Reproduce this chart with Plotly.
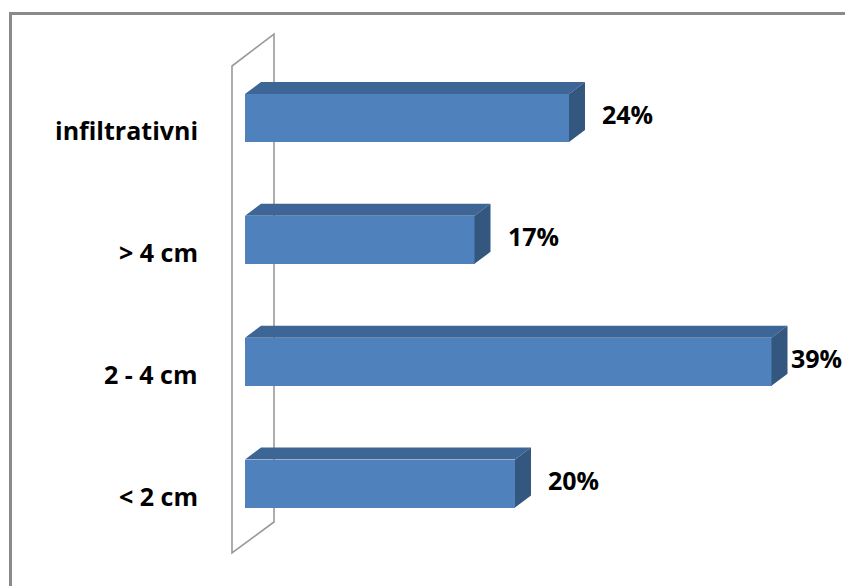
import plotly.graph_objects as go

# ---- data ----
categories = ["< 2 cm", "2 - 4 cm", "> 4 cm", "infiltrativni"]
values = [20, 39, 17, 24]
value_labels = ["20%", "39%", "17%", "24%"]

# ---- geometry / style ----
W, H = 845, 586
X0_PX = 245.0          # pixel of value 0
PX_PER_UNIT_X = 13.5   # pixels per percent
PX_PER_CAT = 121.83    # pixels between categories
Y0_PX = 483.5          # pixel of first category centre
BAR_PX = 48.0
DEPTH_DX, DEPTH_DY = 16.0, 12.0
LABEL_GAP = 31
LABEL_W = 56

x_range = [-X0_PX / PX_PER_UNIT_X, (W - X0_PX) / PX_PER_UNIT_X]
y_min = -(H - Y0_PX) / PX_PER_CAT
y_max = Y0_PX / PX_PER_CAT
bar_w = BAR_PX / PX_PER_CAT
dx = DEPTH_DX / PX_PER_UNIT_X
dy = DEPTH_DY / PX_PER_CAT

FRONT = "#4F81BD"
TOP = "#3D6595"
SIDE = "#33577F"
FONT = "Open Sans"

ypos = list(range(len(categories)))

fig = go.Figure()

# front faces
fig.add_trace(go.Bar(
    x=values, y=ypos, orientation="h", base=0, width=bar_w,
    marker=dict(color=FRONT, line=dict(width=0)), hoverinfo="skip",
))

# top faces and side faces
tx, ty, sx, sy = [], [], [], []
for v, y in zip(values, ypos):
    t = y + bar_w / 2
    b = y - bar_w / 2
    tx += [0, v, v + dx, dx, 0, None]
    ty += [t, t, t + dy, t + dy, t, None]
    sx += [v, v, v + dx, v + dx, v, None]
    sy += [b, t, t + dy, b + dy, b, None]
fig.add_trace(go.Scatter(x=tx, y=ty, mode="lines", fill="toself",
                         fillcolor=TOP, line=dict(width=0, color=TOP),
                         hoverinfo="skip"))
fig.add_trace(go.Scatter(x=sx, y=sy, mode="lines", fill="toself",
                         fillcolor=SIDE, line=dict(width=0, color=SIDE),
                         hoverinfo="skip"))

# category labels
for c, y in zip(categories, ypos):
    fig.add_annotation(x=0, y=y, xref="x", yref="y", text=c, showarrow=False,
                       xanchor="right", yanchor="middle", xshift=-45, yshift=-12,
                       font=dict(family=FONT, size=25, color="#000000", weight="bold"))

# value labels (pulled in when they would run off the chart)
for v, y, lab in zip(values, ypos, value_labels):
    end_px = X0_PX + v * PX_PER_UNIT_X
    shift = min(LABEL_GAP, (W - LABEL_W) - end_px)
    fig.add_annotation(x=v, y=y, xref="x", yref="y", text=lab, showarrow=False,
                       xanchor="left", yanchor="middle", xshift=shift, yshift=4,
                       font=dict(family=FONT, size=25, color="#000000", weight="bold"))


def px_to_x(p):
    return x_range[0] + p / PX_PER_UNIT_X


def py_to_y(p):
    return y_max - p / PX_PER_CAT


# back wall (parallelogram)
wall = [(232, 553), (232, 66), (274, 34), (274, 522)]
path = "M " + " L ".join(f"{px_to_x(a):.4f},{py_to_y(b):.4f}" for a, b in wall) + " Z"
fig.add_shape(type="path", path=path, xref="x", yref="y", layer="below",
              line=dict(color="#9A9A9A", width=1.6), fillcolor="rgba(0,0,0,0)")

# outer chart border (top and left edges visible)
fig.add_shape(type="path", xref="paper", yref="paper",
              path=f"M {10.5/W},0 L {10.5/W},{1-13.5/H} L 1,{1-13.5/H}",
              line=dict(color="#8A8A8A", width=3))

fig.update_layout(
    width=W, height=H,
    margin=dict(l=0, r=0, t=0, b=0),
    paper_bgcolor="white", plot_bgcolor="white",
    showlegend=False, bargap=0,
    xaxis=dict(range=x_range, visible=False, fixedrange=True),
    yaxis=dict(range=[y_min, y_max], visible=False, fixedrange=True),
)

fig.write_html("out.html", config={"displayModeBar": False},
               post_script="document.body.style.margin='0px';")
